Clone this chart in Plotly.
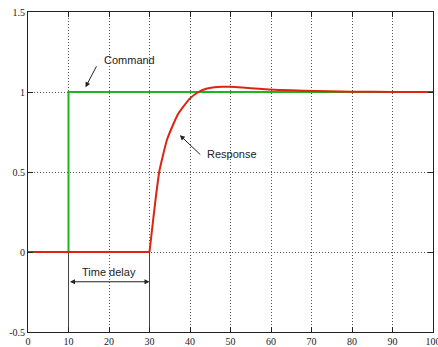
import plotly.graph_objects as go

# Step command and delayed closed-loop response
cmd_t = [0, 10, 10, 100]
cmd_y = [0, 0, 1, 1]

resp_t = [0, 30, 30.9, 31.6, 32.4, 33.2, 34.3, 35.9, 37.0, 38.4, 40.0, 42.1,
          44.0, 46.0, 48.0, 50.0, 53.0, 57.0, 62.0, 68.0, 74.0, 80.0, 90.0, 100.0]
resp_y = [0, 0, 0.20, 0.35, 0.50, 0.59, 0.70, 0.80, 0.86, 0.91, 0.96, 1.00,
          1.02, 1.03, 1.033, 1.033, 1.028, 1.02, 1.013, 1.008, 1.004, 1.002, 1.0, 1.0]

delay_start = 10
delay_end = 30

x_ticks = [0, 10, 20, 30, 40, 50, 60, 70, 80, 90, 100]
x_labels = ["0", "10", "20", "30", "40", "50", "60", "70", "80", "90", "100"]
y_ticks = [-0.5, 0, 0.5, 1, 1.5]
y_labels = ["-0.5", "0", "0.5", "1", "1.5"]

fig = go.Figure()

# Solid markers bounding the time delay below the zero line
for xv in (delay_start, delay_end):
    fig.add_trace(go.Scatter(x=[xv, xv], y=[y_ticks[0], 0], mode="lines",
                             line=dict(color="#444444", width=1),
                             hoverinfo="skip", showlegend=False))

fig.add_trace(go.Scatter(x=cmd_t, y=cmd_y, mode="lines",
                         line=dict(color="#1fb41f", width=2),
                         showlegend=False))
# Flat delay segment, then the smooth rise
fig.add_trace(go.Scatter(x=resp_t[:2], y=resp_y[:2], mode="lines",
                         line=dict(color="#dd2410", width=2),
                         showlegend=False))
fig.add_trace(go.Scatter(x=resp_t[1:], y=resp_y[1:], mode="lines",
                         line=dict(color="#dd2410", width=2, shape="spline",
                                   smoothing=0.6),
                         showlegend=False))

axis_common = dict(
    showline=True, linecolor="#222222", linewidth=1, mirror="allticks",
    ticks="inside", ticklen=5, tickcolor="#222222",
    showgrid=True, gridcolor="#555555", gridwidth=1, griddash="1px,2px",
    zeroline=False, automargin=False, ticklabeloverflow="allow",
    tickfont=dict(family="Liberation Serif", size=10, color="#222222"),
)

fig.update_xaxes(range=[0, 100], tickvals=x_ticks, ticktext=x_labels, **axis_common)
fig.update_yaxes(range=[-0.5, 1.5], tickvals=y_ticks, ticktext=y_labels, **axis_common)

ann_font = dict(family="Liberation Sans", size=11, color="#222222")

fig.add_annotation(x=14.2, y=1.03, xref="x", yref="y",
                   ax=17.1, ay=1.17, axref="x", ayref="y",
                   showarrow=True, arrowhead=2, arrowsize=1, arrowwidth=1,
                   arrowcolor="#222222", text="")
fig.add_annotation(x=18.2, y=1.2, xref="x", yref="y", text="Command",
                   showarrow=False, xanchor="left", font=ann_font)

fig.add_annotation(x=37.5, y=0.73, xref="x", yref="y",
                   ax=42.9, ay=0.60, axref="x", ayref="y",
                   showarrow=True, arrowhead=2, arrowsize=1, arrowwidth=1,
                   arrowcolor="#222222", text="")
fig.add_annotation(x=43.8, y=0.61, xref="x", yref="y", text="Response",
                   showarrow=False, xanchor="left", font=ann_font)

fig.add_annotation(x=delay_end, y=-0.186, xref="x", yref="y",
                   ax=delay_start, ay=-0.186, axref="x", ayref="y",
                   showarrow=True, arrowhead=2, arrowside="end+start",
                   arrowsize=1, arrowwidth=1, arrowcolor="#222222", text="")
fig.add_annotation(x=(delay_start + delay_end) / 2, y=-0.123, xref="x", yref="y",
                   text="Time delay", showarrow=False, font=ann_font)

fig.update_layout(
    width=438, height=347,
    margin=dict(l=28, r=5, t=12, b=15),
    paper_bgcolor="white", plot_bgcolor="white",
)

fig.write_html("out.html")
